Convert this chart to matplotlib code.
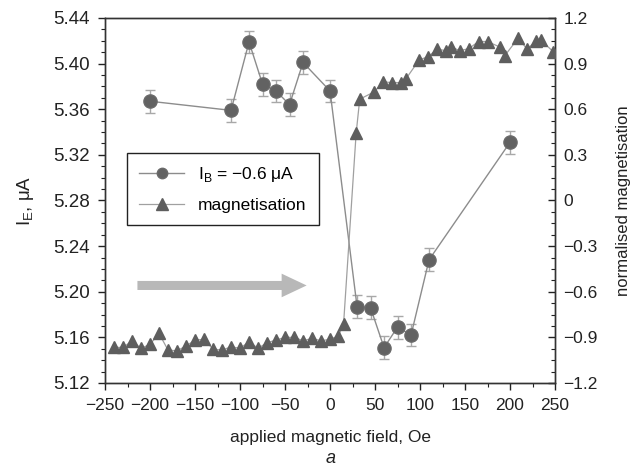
import matplotlib
matplotlib.use('Agg')
import matplotlib.pyplot as plt
from matplotlib.ticker import MultipleLocator, FormatStrFormatter, FixedLocator

plt.rcParams['font.family'] = ['Liberation Sans', 'DejaVu Sans']
plt.rcParams['font.size'] = 12
plt.rcParams['axes.unicode_minus'] = True

# emitter current vs field (left axis)
field_ie = [-200, -110, -90, -75, -60, -45, -30, 0, 30, 45, 60, 75, 90, 110, 200]
current_ie = [5.367, 5.359, 5.419, 5.382, 5.376, 5.364, 5.401, 5.376,
              5.187, 5.186, 5.151, 5.169, 5.162, 5.228, 5.331]
err_ie = [0.01] * len(field_ie)

# normalised magnetisation (right axis)
field_m = [-240, -230, -220, -210, -200, -190, -180, -170, -160, -150,
           -140, -130, -120, -110, -100, -90, -80, -70, -60, -50,
           -40, -30, -20, -10, 0, 9, 15, 29, 33, 49, 59, 69, 79, 84,
           99, 109, 119, 129, 134, 144, 154, 165, 175, 189, 194, 209,
           219, 229, 234, 248]
magn = [-0.966, -0.966, -0.924, -0.972, -0.946, -0.874, -0.984, -0.988, -0.957, -0.918,
        -0.913, -0.977, -0.984, -0.962, -0.972, -0.929, -0.972, -0.935, -0.918, -0.900,
        -0.900, -0.922, -0.907, -0.922, -0.913, -0.891, -0.815, 0.442, 0.666, 0.714,
        0.780, 0.775, 0.775, 0.797, 0.924, 0.946, 0.995, 0.985, 1.012, 0.985,
        0.998, 1.045, 1.045, 1.008, 0.951, 1.067, 0.995, 1.051, 1.056, 0.978]

xticks = [-250, -200, -150, -100, -50, 0, 50, 100, 150, 200, 250]
right_ticks = [-1.2, -0.9, -0.6, -0.3, 0, 0.3, 0.6, 0.9, 1.2]
right_labels = ['\u22121.2', '\u22120.9', '\u22120.6', '\u22120.3', '0', '0.3', '0.6', '0.9', '1.2']

txt = '#222222'
fig = plt.figure(figsize=(6.35, 4.73), dpi=100)
ax = fig.add_axes([0.1654, 0.1903, 0.7087, 0.7717])
ax2 = ax.twinx()

# current with error bars
ax.errorbar(field_ie, current_ie, yerr=err_ie, color='#8c8c8c', lw=1.0,
            ecolor='#a8a8a8', elinewidth=1.0, capsize=3.5, capthick=1.0,
            marker='o', ms=9.5, mfc='#626262', mec='#6a6a6a', zorder=3)
h1, = ax.plot([], [], color='#8c8c8c', lw=1.0, marker='o', ms=7.5,
              mfc='#626262', mec='#6a6a6a')

h2, = ax2.plot(field_m, magn, color='#a0a0a0', lw=0.9, marker='^', ms=8,
               mfc='#5e5e5e', mec='#5e5e5e', zorder=3)

# sweep direction arrow
ax.annotate('', xy=(-26, 5.2055), xytext=(-214, 5.2055),
            arrowprops=dict(arrowstyle='simple,head_length=18,head_width=17,tail_width=6.5',
                            mutation_scale=1, fc='#b8b8b8', ec='none',
                            shrinkA=0, shrinkB=0))

ax.set_xlim(-250, 250)
ax.set_ylim(5.12, 5.44)
ax2.set_ylim(-1.2, 1.2)

ax.xaxis.set_major_locator(FixedLocator(xticks))
ax.set_xticklabels([str(v).replace('-', '\u2212') for v in xticks])
ax.xaxis.set_minor_locator(MultipleLocator(25))
ax.yaxis.set_major_locator(MultipleLocator(0.04))
ax.yaxis.set_major_formatter(FormatStrFormatter('%.2f'))
ax.yaxis.set_minor_locator(MultipleLocator(0.01))
ax2.yaxis.set_major_locator(FixedLocator(right_ticks))
ax2.set_yticklabels(right_labels)
ax2.yaxis.set_minor_locator(MultipleLocator(0.075))

ax.tick_params(which='both', direction='out', top=False, right=False,
               colors=txt, labelcolor=txt, labelsize=12.5)
ax.tick_params(axis='y', labelsize=13.5, pad=6)
ax.tick_params(axis='x', pad=6)
ax.tick_params(which='major', length=5, width=1)
ax.tick_params(which='minor', length=3, width=0.8)
ax2.tick_params(which='both', direction='in', colors=txt, labelcolor=txt, labelsize=12.5)
ax2.tick_params(which='major', length=5, width=1, pad=6)
ax2.tick_params(which='minor', length=3, width=0.8)

for a in (ax, ax2):
    for s in a.spines.values():
        s.set_color('#333333')
        s.set_linewidth(1.0)

ax.set_xlabel('applied magnetic field, Oe', color=txt, labelpad=12, fontsize=12.5)
ax.set_ylabel('I$_\\mathregular{E}$, \u03bcA', color=txt, labelpad=12, fontsize=13.5)
ax2.set_ylabel('normalised magnetisation', color=txt, labelpad=13, fontsize=12)

leg = ax2.legend([h1, h2], ['I$_\\mathregular{B}$ = \u22120.6 \u03bcA', 'magnetisation'],
                 loc='upper left', bbox_to_anchor=(0.049, 0.630), borderaxespad=0,
                 fancybox=False, edgecolor='#222222', framealpha=1, handlelength=2.6,
                 borderpad=0.7, labelspacing=0.8, fontsize=12.5)
leg.get_frame().set_linewidth(1.0)

fig.text(0.52, 1 - 458 / 473, 'a', style='italic', ha='center', va='center',
         color=txt, fontsize=13)

fig.savefig('out.png', dpi=100)
